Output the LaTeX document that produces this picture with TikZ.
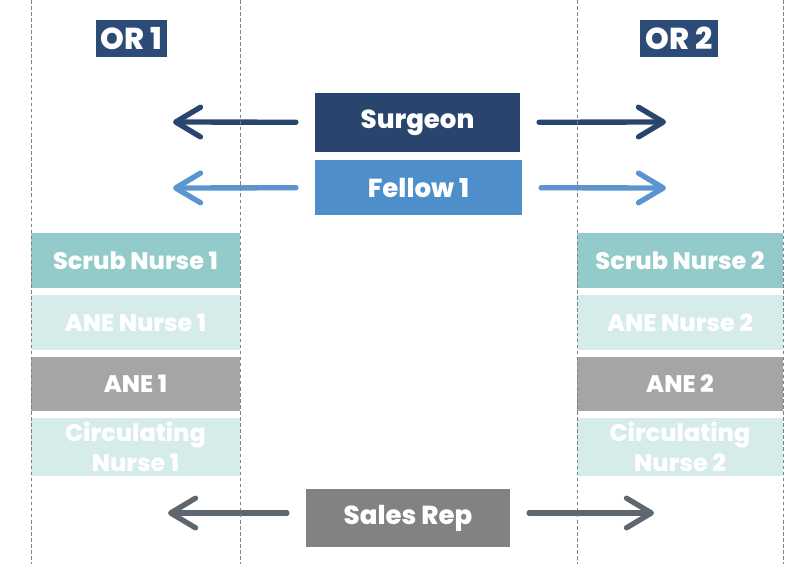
\documentclass[tikz,border=0pt]{standalone}
\usepackage{fontspec}
\setmainfont{Poppins}[BoldFont={Poppins ExtraBold}]
\usetikzlibrary{arrows.meta}
\definecolor{orblue}{HTML}{2C4C77}
\definecolor{surgblue}{HTML}{29456D}
\definecolor{fellowblue}{HTML}{4E8ECB}
\definecolor{fellowarr}{HTML}{5B95CF}
\definecolor{scrubteal}{HTML}{92CBC9}
\definecolor{paleteal}{HTML}{D6ECEA}
\definecolor{anegray}{HTML}{A7A4A6}
\definecolor{salesgray}{HTML}{828282}
\definecolor{salesarr}{HTML}{5E6670}

\begin{document}
\begin{tikzpicture}[x=0.025cm, y=-0.025cm,
  role/.style={fill=#1, text=white, inner sep=0pt, font=\bfseries\fontsize{18.5}{22}\selectfont},
  staff/.style={fill=#1, text=white, inner sep=0pt, minimum height=1.375cm, align=center, font=\bfseries\fontsize{17}{21}\selectfont},
  roomtag/.style={fill=orblue, text=white, inner sep=0pt, minimum height=0.925cm, font=\bfseries\fontsize{21.5}{24}\selectfont},
  arr/.style={draw=#1, line width=3.8pt, line cap=round, shorten <=0.47cm, -{Straight Barb[length=0.62cm, width=0.74cm, line width=3.8pt, line cap=round, round]}}]
\useasboundingbox (0,0) rectangle (802,564);
\node[roomtag, minimum width=1.775cm] (or1) at (131.5,38.5) {OR 1};
\node[roomtag, minimum width=1.95cm] (or2) at (679,38.5) {OR 2};
\node[role=surgblue, minimum width=5.125cm, minimum height=1.475cm] (surgeon) at (417.5,122.5) {Surgeon};
\node[role=fellowblue, minimum width=5.175cm, minimum height=1.375cm] (fellow) at (418.5,187.5) {Fellow 1};
\node[role=salesgray, minimum width=5.1cm, minimum height=1.45cm] (sales) at (408,518) {Sales Rep};
\foreach \side/\x/\w in {1/135.5/5.225, 2/680/5.15} {
\node[staff=scrubteal, minimum width=\w cm] (scrub\side) at (\x,260.5) {Scrub Nurse \side};
\node[staff=paleteal, minimum width=\w cm] (anenurse\side) at (\x,322.5) {ANE Nurse \side};
\node[staff=anegray, minimum width=\w cm, minimum height=1.35cm] (ane\side) at (\x,384) {ANE \side};
\node[staff=paleteal, minimum width=\w cm, minimum height=1.45cm] (circ\side) at (\x,447) {Circulating\\Nurse \side};
}
\coordinate (surgeonL) at (173,122);
\coordinate (surgeonR) at (666,122);
\coordinate (fellowL) at (173,188);
\coordinate (fellowR) at (666,188);
\coordinate (salesL) at (168,513);
\coordinate (salesR) at (654,513);
\draw[arr=surgblue] (surgeon) -- (surgeonL);
\draw[arr=surgblue] (surgeon) -- (surgeonR);
\draw[arr=fellowarr] (fellow) -- (fellowL);
\draw[arr=fellowarr] (fellow) -- (fellowR);
\draw[arr=salesarr] (sales.west |- salesL) -- (salesL);
\draw[arr=salesarr] (sales.east |- salesR) -- (salesR);
\foreach \x in {31,240,577,783} {
\draw[gray, line width=0.6pt, dash pattern=on 2.5pt off 1.8pt] (\x,0) -- (\x,564);
}
\end{tikzpicture}
\end{document}
